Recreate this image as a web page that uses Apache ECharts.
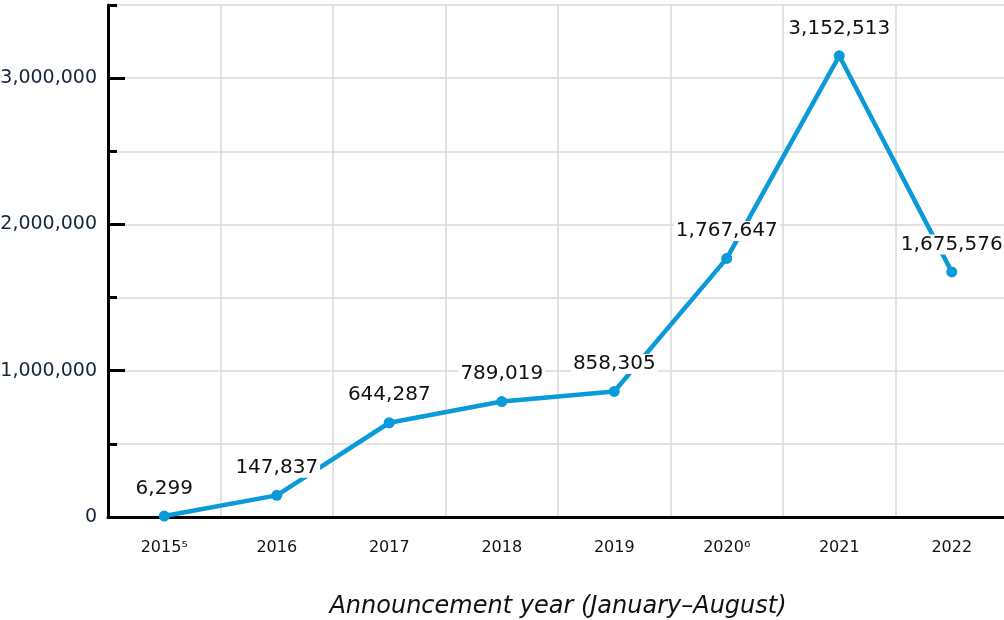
<!DOCTYPE html>
<html>
<head>
<meta charset="utf-8">
<script src="https://cdn.jsdelivr.net/npm/echarts@6/dist/echarts.min.js"></script>
<style>
html,body{margin:0;padding:0;background:#fff;}
#chart{width:1004px;height:620px;}
</style>
</head>
<body>
<div id="chart"></div>
<script>
const categories = ['2015\u2075', '2016', '2017', '2018', '2019', '2020\u2076', '2021', '2022'];
const values = [6299, 147837, 644287, 789019, 858305, 1767647, 3152513, 1675576];
const majorTicks = [0, 1000000, 2000000, 3000000];
const axisTitle = 'Announcement year (January\u2013August)';

const FONT = '"DejaVu Sans", sans-serif';
const fmt = v => Number(v).toLocaleString('en-US');

const chart = echarts.init(document.getElementById('chart'), null, {renderer: 'canvas'});
chart.setOption({
  animation: false,
  backgroundColor: '#ffffff',
  grid: {left: 108, width: 900, top: 5, height: 512, containLabel: false, outerBoundsMode: 'none'},
  xAxis: {
    type: 'category',
    data: categories,
    boundaryGap: true,
    name: axisTitle,
    nameLocation: 'middle',
    nameGap: 90,
    nameTextStyle: {fontFamily: FONT, fontStyle: 'italic', fontSize: 24, color: '#111', verticalAlign: 'middle'},
    axisLine: {show: true, lineStyle: {color: '#000', width: 3}},
    axisTick: {show: false},
    axisLabel: {fontFamily: FONT, fontSize: 16, color: '#111', margin: 23},
    splitLine: {show: true, lineStyle: {color: '#d9d9d9', width: 1.5}}
  },
  yAxis: [{
    type: 'value',
    min: 0, max: 3500000, interval: 500000,
    axisLine: {show: true, lineStyle: {color: '#000', width: 3}},
    axisTick: {show: true, inside: true, length: 9, lineStyle: {color: '#000', width: 3}},
    axisLabel: {show: false},
    splitLine: {show: true, lineStyle: {color: '#d9d9d9', width: 1.5}}
  }, {
    type: 'value',
    position: 'left',
    min: 0, max: 3500000, interval: 500000,
    axisLine: {show: false},
    axisTick: {show: true, inside: true, length: 17, customValues: majorTicks, lineStyle: {color: '#000', width: 3}},
    axisLabel: {show: true, customValues: majorTicks, margin: 11, fontFamily: FONT, fontSize: 19, color: '#16263a', formatter: v => fmt(v)},
    splitLine: {show: false}
  }],
  series: [{
    type: 'line',
    yAxisIndex: 0,
    data: values,
    symbol: 'circle',
    symbolSize: 11,
    lineStyle: {color: '#0a9ad9', width: 4.5},
    itemStyle: {color: '#0a9ad9'},
    label: {
      show: true,
      position: 'top',
      distance: 12,
      fontFamily: FONT,
      fontSize: 20,
      color: '#111',
      backgroundColor: '#fff',
      padding: [0, 2],
      formatter: p => fmt(p.value)
    }
  }]
});
</script>
</body>
</html>
